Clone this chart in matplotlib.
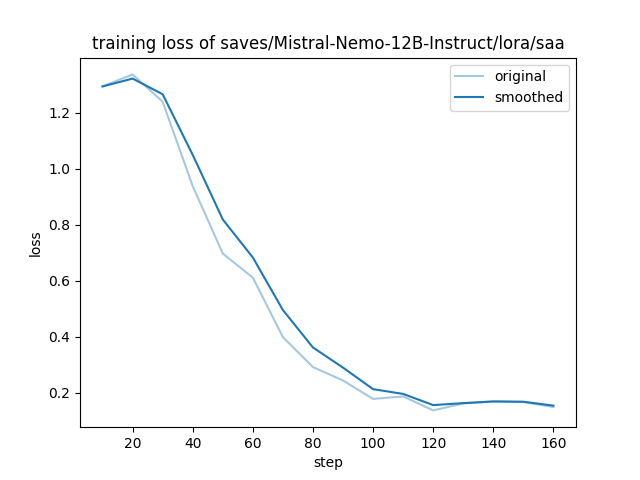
import matplotlib
matplotlib.use('Agg')
import matplotlib.pyplot as plt

steps = [10, 20, 30, 40, 50, 60, 70, 80, 90, 100, 110, 120, 130, 140, 150, 160]
original = [1.295, 1.338, 1.240, 0.938, 0.697, 0.611, 0.398, 0.291, 0.243, 0.177,
            0.186, 0.136, 0.161, 0.168, 0.166, 0.148]
smoothed = [1.295, 1.323, 1.267, 1.050, 0.819, 0.683, 0.495, 0.361, 0.289, 0.212,
            0.195, 0.155, 0.162, 0.168, 0.167, 0.153]

plt.figure(figsize=(6.4, 4.8), dpi=100)
plt.plot(steps, original, color='#1f77b4', alpha=0.4, label='original')
plt.plot(steps, smoothed, color='#1f77b4', label='smoothed')
plt.title('training loss of saves/Mistral-Nemo-12B-Instruct/lora/saa')
plt.xlabel('step')
plt.ylabel('loss')
plt.legend()
plt.savefig('out.png')
